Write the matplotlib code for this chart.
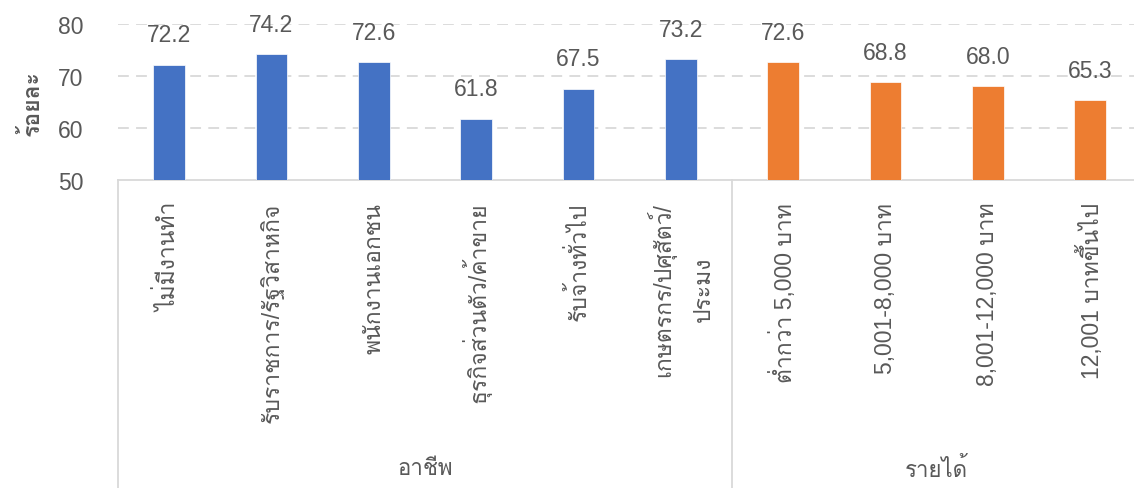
import matplotlib
matplotlib.use("Agg")
import matplotlib.pyplot as plt
import matplotlib.transforms as mtransforms
from matplotlib import font_manager
from matplotlib.ft2font import FT2Font
import numpy as np


# categories and values (percent)
occupations = ["ไม่มีงานทำ", "รับราชการ/รัฐวิสาหกิจ", "พนักงานเอกชน",
               "ธุรกิจส่วนตัว/ค้าขาย", "รับจ้างทั่วไป", "เกษตรกร/ปศุสัตว์/\nประมง"]
occupation_vals = [72.2, 74.2, 72.6, 61.8, 67.5, 73.2]

incomes = ["ต่ำกว่า 5,000 บาท", "5,001-8,000 บาท", "8,001-12,000 บาท", "12,001 บาทขึ้นไป"]
income_vals = [72.6, 68.8, 68.0, 65.3]

group_names = ["อาชีพ", "รายได้"]
y_ticks = [50, 60, 70, 80]


# find an installed font that has Thai glyphs
def find_thai_font():
    for f in font_manager.fontManager.ttflist:
        try:
            if FT2Font(f.fname).get_char_index(ord("ก")):
                return f.name
        except Exception:
            pass
    return "DejaVu Sans"


thai_font = find_thai_font()
plt.rcParams["font.family"] = ["Liberation Sans", thai_font, "DejaVu Sans"]

text_col = "#595959"
blue = "#4472C4"
orange = "#ED7D31"

labels = occupations + incomes
values = occupation_vals + income_vals
colors = [blue] * len(occupations) + [orange] * len(incomes)
x = np.arange(len(labels))

fig = plt.figure(figsize=(11.34, 4.89), dpi=100)
ax = fig.add_axes([118 / 1134, 1 - 181 / 489, 1 - 118 / 1134, (181 - 25) / 489])

bars = ax.bar(x, values, width=0.31, color=colors, edgecolor="white", linewidth=0.5, zorder=3)
for xi, v in zip(x, values):
    ax.annotate(f"{v:.1f}", (xi, v), xytext=(0, 17), textcoords="offset points",
                ha="center", va="baseline", fontsize=16.5, color=text_col, annotation_clip=False)

ax.set_ylim(50, 80)
ax.set_xlim(-0.5, 9.43)
ax.set_yticks(y_ticks)
ax.tick_params(axis="y", length=0, pad=25, labelsize=16.5, labelcolor=text_col)
ax.set_xticks([])
for t in y_ticks[1:]:
    ax.axhline(t, color="#d9d9d9", linewidth=1.3, linestyle=(0, (6, 4)), zorder=1)

for s in ["left", "right", "top"]:
    ax.spines[s].set_visible(False)
ax.spines["bottom"].set_color("#d9d9d9")
ax.spines["bottom"].set_linewidth(1.3)

ax.set_ylabel("ร้อยละ", fontsize=16.5, fontweight="bold", color=text_col, labelpad=10)

# category labels below the axis, rotated
trans = mtransforms.blended_transform_factory(ax.transData, ax.transAxes)
for xi, lab in zip(x, labels):
    ax.text(xi, -0.14, lab, rotation=90, ha="center", va="top", multialignment="center",
            fontsize=16.5, color=text_col, transform=trans, linespacing=1.9)

# group separators and group names
bottom = -(489 - 181) / (181 - 25)
for xb in [-0.5, 5.5]:
    ax.plot([xb, xb], [0, bottom], transform=trans, color="#d9d9d9", linewidth=1.3, clip_on=False)
ax.text(2.5, -1.85, group_names[0], ha="center", va="center", fontsize=16, color=text_col, transform=trans)
ax.text(7.5, -1.85, group_names[1], ha="center", va="center", fontsize=16, color=text_col, transform=trans)

fig.savefig("out.png", dpi=100)
